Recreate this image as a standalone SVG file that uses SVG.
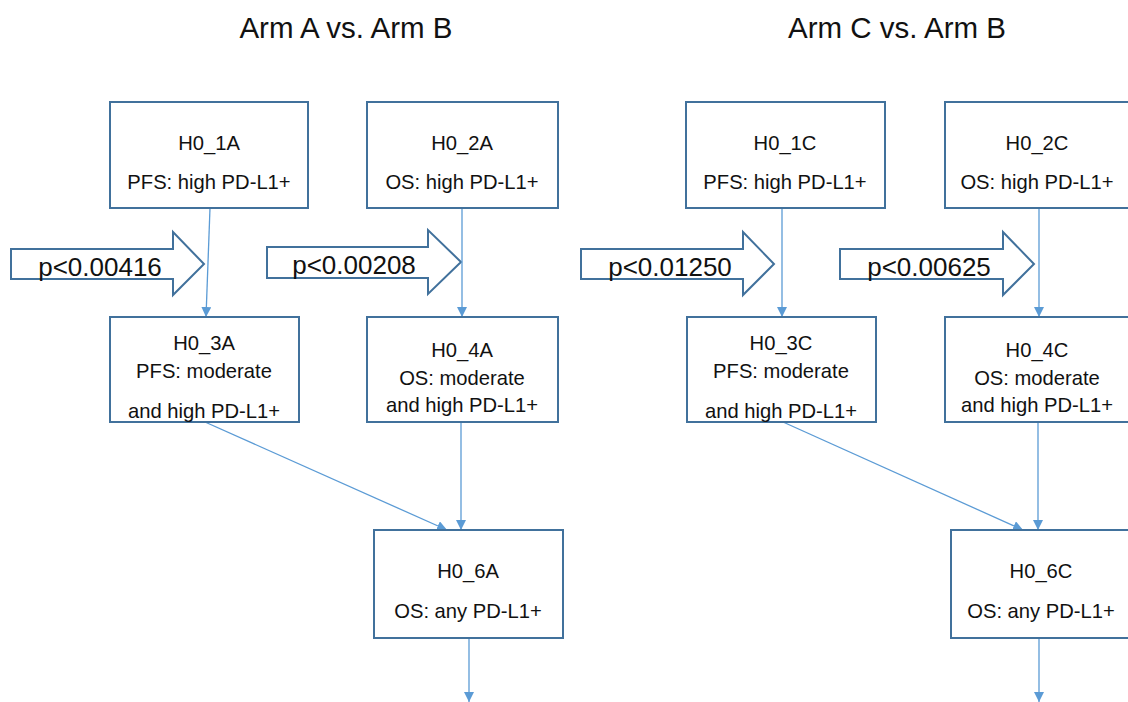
<svg xmlns="http://www.w3.org/2000/svg" width="1128" height="702" viewBox="0 0 1128 702">
<style>
.box{fill:#fff;stroke:#41719c;stroke-width:2}
.big{fill:#fff;stroke:#41719c;stroke-width:2;stroke-linejoin:miter}
.t{font-family:"Liberation Sans",Arial,sans-serif;font-size:20.2px;fill:#111;text-anchor:middle}
.p{font-family:"Liberation Sans",Arial,sans-serif;font-size:26px;fill:#111;text-anchor:middle}
.h{font-family:"Liberation Sans",Arial,sans-serif;font-size:29.5px;fill:#111;text-anchor:middle}
.c{stroke:#5b9bd5;stroke-width:1.3;fill:none;marker-end:url(#ah)}
</style>
<defs>
<marker id="ah" viewBox="0 0 10 10" refX="10" refY="5" markerWidth="10" markerHeight="10" markerUnits="userSpaceOnUse" orient="auto">
<path d="M0,0 L10,5 L0,10 z" fill="#5b9bd5"/>
</marker>
</defs>
<rect width="1128" height="702" fill="#fff"/>
<text class="h" x="346" y="38">Arm A vs. Arm B</text>
<text class="h" x="897" y="38">Arm C vs. Arm B</text>

<g id="arrow1"><path class="big" d="M11,249 H173 V232 L204,264 L173,295 V279 H11 Z"/><text class="p" x="100" y="276">p&lt;0.00416</text></g>
<g id="arrow2"><path class="big" d="M267,247 H428 V230 L461,262 L428,294 V278 H267 Z"/><text class="p" x="354" y="274">p&lt;0.00208</text></g>
<g id="arrow3"><path class="big" d="M581,249 H743 V232 L774,264 L743,295 V279 H581 Z"/><text class="p" x="670" y="276">p&lt;0.01250</text></g>
<g id="arrow4"><path class="big" d="M840,249 H1003 V232 L1034,264 L1003,295 V279 H840 Z"/><text class="p" x="929" y="276">p&lt;0.00625</text></g>

<g id="connectors">
<line class="c" x1="210" y1="208" x2="206" y2="317"/>
<line class="c" x1="462" y1="208" x2="462" y2="317"/>
<line class="c" x1="782" y1="208" x2="782" y2="317"/>
<line class="c" x1="1039" y1="208" x2="1039" y2="317"/>
<line class="c" x1="205" y1="422" x2="447" y2="530"/>
<line class="c" x1="461" y1="422" x2="461" y2="530"/>
<line class="c" x1="469" y1="638" x2="469" y2="702"/>
<line class="c" x1="783" y1="422" x2="1023" y2="530"/>
<line class="c" x1="1038" y1="422" x2="1038" y2="530"/>
<line class="c" x1="1039" y1="638" x2="1039" y2="702"/>
</g>

<g id="H0_1A"><rect class="box" x="110" y="102" width="198" height="106"/><text class="t" x="209" y="150">H0_1A</text><text class="t" x="209" y="189">PFS: high PD-L1+</text></g>
<g id="H0_2A"><rect class="box" x="367" y="102" width="191" height="106"/><text class="t" x="462" y="150">H0_2A</text><text class="t" x="462" y="189">OS: high PD-L1+</text></g>
<g id="H0_3A"><rect class="box" x="110" y="317" width="189" height="105"/><text class="t" x="204" y="350">H0_3A</text><text class="t" x="204" y="378">PFS: moderate</text><text class="t" x="204" y="418">and high PD-L1+</text></g>
<g id="H0_4A"><rect class="box" x="367" y="317" width="191" height="105"/><text class="t" x="462" y="357">H0_4A</text><text class="t" x="462" y="385">OS: moderate</text><text class="t" x="462" y="412">and high PD-L1+</text></g>
<g id="H0_6A"><rect class="box" x="374" y="530" width="189" height="108"/><text class="t" x="468" y="578">H0_6A</text><text class="t" x="468" y="618">OS: any PD-L1+</text></g>

<g id="H0_1C"><rect class="box" x="686" y="102" width="199" height="106"/><text class="t" x="785" y="150">H0_1C</text><text class="t" x="785" y="189">PFS: high PD-L1+</text></g>
<g id="H0_2C"><rect class="box" x="945" y="102" width="192" height="106"/><text class="t" x="1037" y="150">H0_2C</text><text class="t" x="1037" y="189">OS: high PD-L1+</text></g>
<g id="H0_3C"><rect class="box" x="687" y="317" width="189" height="105"/><text class="t" x="781" y="350">H0_3C</text><text class="t" x="781" y="378">PFS: moderate</text><text class="t" x="781" y="418">and high PD-L1+</text></g>
<g id="H0_4C"><rect class="box" x="945" y="317" width="192" height="105"/><text class="t" x="1037" y="357">H0_4C</text><text class="t" x="1037" y="385">OS: moderate</text><text class="t" x="1037" y="412">and high PD-L1+</text></g>
<g id="H0_6C"><rect class="box" x="951" y="530" width="186" height="108"/><text class="t" x="1041" y="578">H0_6C</text><text class="t" x="1041" y="618">OS: any PD-L1+</text></g>
</svg>
